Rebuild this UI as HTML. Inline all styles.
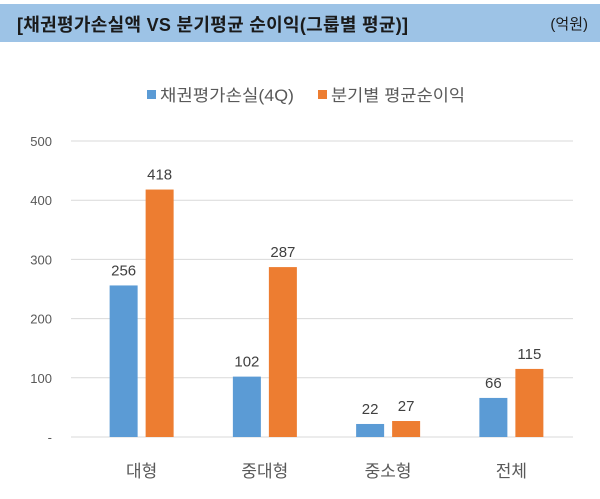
<!DOCTYPE html>
<html><head><meta charset="utf-8"><style>
body{margin:0;background:#fff;font-family:"Liberation Sans","Noto Sans CJK KR",sans-serif;}
#wrap{position:relative;width:600px;height:499px;overflow:hidden;background:#fff}
#title{position:absolute;left:0;top:4px;width:600px;height:38px;background:#9dc3e6;}
#title .t{position:absolute;left:17px;top:7px;font-size:18px;font-weight:bold;color:#1a1a1a;letter-spacing:0.3px}
#title .u{position:absolute;right:12px;top:9px;font-size:15px;color:#1a1a1a}
</style></head><body>
<div id="wrap">
<div id="title">
<span class="t">[채권평가손실액 VS 분기평균 순이익(그룹별 평균)]</span>
<span class="u">(억원)</span>
</div>
<svg id="chart" width="600" height="499" style="position:absolute;left:0;top:0"></svg>
</div>
<script>
const categories=["대형","중대형","중소형","전체"];
const lossValues=[256,102,22,66];
const profitValues=[418,287,27,115];
const tickValues=[0,100,200,300,400,500];
const tickLabels=["-","100","200","300","400","500"];
const seriesNames=["채권평가손실(4Q)","분기별 평균순이익"];

const svg=document.getElementById('chart');
const NS='http://www.w3.org/2000/svg';
const y0=437,y1=141,xL=80,xR=573,gridL=71;
const y=v=>y0-(v/500)*(y0-y1);
const band=(xR-xL)/categories.length;
const cx=i=>xL+band*(i+0.5);
function mk(tag,attrs,text){const e=document.createElementNS(NS,tag);for(const k in attrs)e.setAttribute(k,attrs[k]);if(text!==undefined)e.textContent=text;svg.appendChild(e);return e;}
const F='"Liberation Sans","Noto Sans CJK KR",sans-serif';
tickValues.forEach((v,i)=>{
  const l=mk('line',{x1:gridL,x2:xR,y1:y(v),y2:y(v),stroke:'#d9d9d9','stroke-width':1});
  
  
  const t=mk('text',{x:52,y:y(v)+5,'text-anchor':'end','font-size':13,fill:'#595959','font-family':F},tickLabels[i]);
  
  
});
const colors=['#5b9bd5','#ed7d31'];
const bw=28,gap=8;
categories.forEach((c,i)=>{
  [lossValues[i],profitValues[i]].forEach((v,s)=>{
    const x=cx(i)+(s===0?-gap/2-bw:gap/2);
    const r=mk('rect',{x:x,y:y(v),width:bw,height:y0-y(v),fill:colors[s]});
    
    
    const t=mk('text',{x:x+bw/2,y:y(v)-10,'text-anchor':'middle','font-size':15,fill:'#404040','font-family':F},String(v));
    
    
  });
  const t=mk('text',{x:cx(i),y:477,'text-anchor':'middle','font-size':17,fill:'#595959','font-family':F},c);
  
  
});
const legX=[147,318];
seriesNames.forEach((n,s)=>{
  const r=mk('rect',{x:legX[s],y:90,width:9,height:9,fill:colors[s]});
  
  
  const t=mk('text',{x:legX[s]+13,y:101,'font-size':16.5,fill:'#595959','font-family':F,textLength:134,lengthAdjust:'spacingAndGlyphs'},n);
  
  
});
</script>
</body></html>
